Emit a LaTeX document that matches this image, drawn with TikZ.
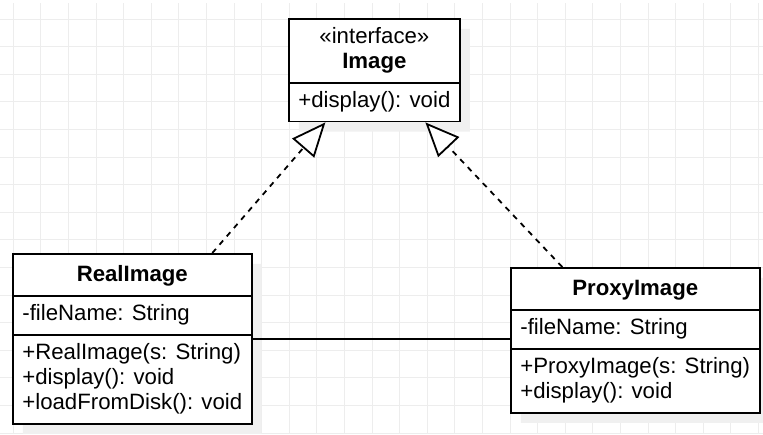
\documentclass[tikz,border=0pt]{standalone}
\usepackage{fontspec}
\setmainfont{Liberation Sans}
\usepackage{tikz}
\usetikzlibrary{shapes}
\usetikzlibrary{arrows.meta}
\usetikzlibrary{shadows}

\newcommand{\umlrows}[2][l]{\begin{tabular}{@{}#1@{}}#2\end{tabular}}

\begin{document}
\begin{tikzpicture}[x=0.5pt,y=-0.5pt]
			\tikzstyle{gridline}=[line width=0.5pt, black!7]
			\tikzstyle{umlclass}=[rectangle split, rectangle split parts=3, rectangle split part align={center,left,left}, draw, line width=0.9pt, fill=white, inner xsep=4.75pt, inner ysep=3pt, anchor=north west, font=\fontsize{11.1pt}{12.5pt}\selectfont, drop shadow={shadow xshift=5pt, shadow yshift=-5pt, fill=black!6, opacity=1}]
			\tikzstyle{realizes}=[line width=0.9pt, dash pattern=on 2.75pt off 2.75pt, -{Triangle[length=17pt, width=14.5pt, fill=white, line width=0.9pt]}]
			
			\useasboundingbox (0,0) rectangle (763,434);
			\fill[white] (0,0) rectangle (763,434);
			\foreach \gx in {0,...,27} \draw[gridline] (13.3+27.6*\gx,3) -- (13.3+27.6*\gx,434);
			\foreach \gy in {0,...,15} \draw[gridline] (0,19+27.6*\gy) -- (763,19+27.6*\gy);
			
			\node[umlclass, rectangle split parts=2, rectangle split part align={center,left}] (img) at (288,18)
			{\umlrows[c]{«interface»\\\textbf{Image}} \nodepart{two} \umlrows{+display(): void}};
			
			\node[umlclass] (real) at (12,253)
			{\umlrows[c]{\rule{0pt}{10.5pt}\textbf{RealImage}} \nodepart{two} \umlrows{-fileName: String}
			\nodepart{three} \umlrows{+RealImage(s: String)\\+display(): void\\+loadFromDisk(): void}};
			
			\node[umlclass] (proxy) at (510,267)
			{\umlrows[c]{\rule{0pt}{10.5pt}\textbf{ProxyImage}} \nodepart{two} \umlrows{-fileName: String}
			\nodepart{three} \umlrows{+ProxyImage(s: String)\\+display(): void}};
			
			\draw[realizes] ([xshift=40pt]real.north) -- ([xshift=-24.5pt]img.south);
			\draw[realizes] ([xshift=-36.5pt]proxy.north) -- ([xshift=25.5pt]img.south);
			\draw[line width=0.9pt] (real.east) -- (real.east -| proxy.west);
			
			\end{tikzpicture}
\end{document}
